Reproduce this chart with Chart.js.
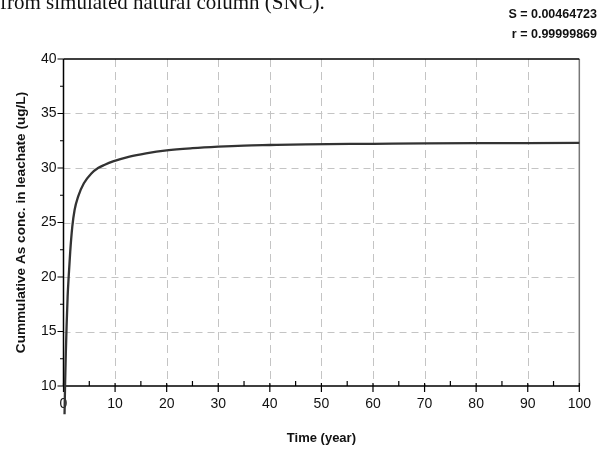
<!DOCTYPE html>
<html lang="en">
<head>
  <meta charset="UTF-8" />
  <title>Cumulative As leaching - SNC</title>
  <script src="https://cdn.jsdelivr.net/npm/chart.js"></script>
  <style>
    body {
      margin: 0;
      background: #fff;
      font-family: "Liberation Sans", Arial, sans-serif;
    }
    .wrap {
      position: relative;
      width: 601px;
      height: 449px;
      overflow: hidden;
    }
    canvas {
      position: absolute;
      left: 0;
      top: 0;
    }
    .caption {
      position: absolute;
      left: 0;
      top: -10px;
      font: 21px "Liberation Serif", "Times New Roman", serif;
      color: #111;
      white-space: nowrap;
    }
    .stats {
      position: absolute;
      right: 4px;
      top: 4px;
      font: bold 12.5px "Liberation Sans", Arial, sans-serif;
      line-height: 20px;
      text-align: right;
      color: #111;
    }
  </style>
</head>
<body>
  <div class="wrap">
    <canvas id="leach-chart" width="601" height="449"></canvas>
    <div class="caption">from simulated natural column (SNC).</div>
    <div class="stats">S = 0.00464723<br>r = 0.99999869</div>
  </div>

  <script>
    // fitted cumulative As curve
    const years = [0.2, 0.3, 0.45, 0.6, 0.8, 1.0, 1.3, 1.7, 2.15, 2.85, 3.95, 5.4, 6.7, 8, 9.6, 12.8, 16, 20, 25, 30, 35, 40, 47, 60, 70, 80, 90, 100];
    const conc = [7.4, 10, 13, 15.5, 18.2, 20, 22.3, 24.6, 26.15, 27.4, 28.6, 29.5, 30.0, 30.3, 30.6, 31.05, 31.35, 31.62, 31.82, 31.96, 32.06, 32.11, 32.17, 32.22, 32.26, 32.28, 32.29, 32.3];

    const xTicks = [0, 10, 20, 30, 40, 50, 60, 70, 80, 90, 100];
    const yTicks = [10, 15, 20, 25, 30, 35, 40];

    const points = years.map((t, i) => ({ x: t, y: conc[i] }));

    // dashed grid, frame and tick marks
    const framePlugin = {
      id: 'frame',
      beforeDatasetsDraw(chart) {
        const { ctx, chartArea: a, scales } = chart;
        const xs = scales.x, ys = scales.y;
        ctx.save();
        ctx.strokeStyle = '#c4c4c4';
        ctx.lineWidth = 1;
        ctx.setLineDash([8, 5]);
        xTicks.slice(1, -1).forEach(v => {
          const x = Math.round(xs.getPixelForValue(v)) + 0.5;
          ctx.beginPath(); ctx.moveTo(x, a.top); ctx.lineTo(x, a.bottom); ctx.stroke();
        });
        ctx.setLineDash([7, 5]);
        yTicks.slice(1, -1).forEach(v => {
          const y = Math.round(ys.getPixelForValue(v)) + 0.5;
          ctx.beginPath(); ctx.moveTo(a.left, y); ctx.lineTo(a.right, y); ctx.stroke();
        });
        ctx.setLineDash([]);

        // right border is lighter than the others
        ctx.strokeStyle = '#777';
        ctx.lineWidth = 1.5;
        ctx.beginPath(); ctx.moveTo(a.right, a.top); ctx.lineTo(a.right, a.bottom); ctx.stroke();

        ctx.strokeStyle = '#000';
        ctx.beginPath();
        ctx.moveTo(a.left, a.top); ctx.lineTo(a.right, a.top);
        ctx.moveTo(a.left, a.top); ctx.lineTo(a.left, a.bottom);
        ctx.moveTo(a.left, a.bottom); ctx.lineTo(a.right, a.bottom);
        ctx.stroke();

        ctx.lineWidth = 1.2;
        ctx.beginPath();
        for (let v = 0; v <= 100; v += 5) {
          const x = xs.getPixelForValue(v);
          if (v % 10 === 0) { ctx.moveTo(x, a.bottom - 3); ctx.lineTo(x, a.bottom + 6); }
          else { ctx.moveTo(x, a.bottom); ctx.lineTo(x, a.bottom - 5); }
        }
        for (let v = 10; v <= 40; v += 2.5) {
          const y = ys.getPixelForValue(v);
          const len = v % 5 === 0 ? 6 : 3.5;
          ctx.moveTo(a.left - len, y); ctx.lineTo(a.left, y);
        }
        ctx.stroke();
        ctx.restore();
      }
    };

    new Chart(document.getElementById('leach-chart'), {
      type: 'scatter',
      data: {
        datasets: [{
          data: points,
          showLine: true,
          borderColor: '#333',
          borderWidth: 2.3,
          pointRadius: 0,
          cubicInterpolationMode: 'monotone',
          clip: false
        }]
      },
      options: {
        responsive: false,
        animation: false,
        events: [],
        layout: { padding: { top: 59, right: 18, left: 0, bottom: 0 } },
        plugins: { legend: { display: false }, tooltip: { enabled: false } },
        scales: {
          x: {
            type: 'linear',
            min: 0,
            max: 100,
            grid: { display: false, drawTicks: false },
            border: { display: false },
            afterBuildTicks: s => { s.ticks = xTicks.map(v => ({ value: v })); },
            afterFit: s => { s.height = 63; },
            ticks: {
              padding: 10,
              color: '#111',
              maxRotation: 0,
              font: { family: '"Liberation Sans", Arial, sans-serif', size: 14 }
            },
            title: {
              display: true,
              text: 'Time (year)',
              color: '#111',
              padding: { top: 0, bottom: 3 },
              font: { family: '"Liberation Sans", Arial, sans-serif', size: 13, weight: 'bold' }
            }
          },
          y: {
            min: 10,
            max: 40,
            grid: { display: false, drawTicks: false },
            border: { display: false },
            afterBuildTicks: s => { s.ticks = yTicks.map(v => ({ value: v })); },
            afterFit: s => { s.width = 63.5; },
            ticks: {
              padding: 7,
              color: '#111',
              font: { family: '"Liberation Sans", Arial, sans-serif', size: 14 }
            },
            title: {
              display: true,
              text: 'Cummulative As conc. in leachate (ug/L)',
              color: '#111',
              padding: { top: 13, bottom: 0 },
              font: { family: '"Liberation Sans", Arial, sans-serif', size: 13.6, weight: 'bold' }
            }
          }
        }
      },
      plugins: [framePlugin]
    });
  </script>
</body>
</html>
